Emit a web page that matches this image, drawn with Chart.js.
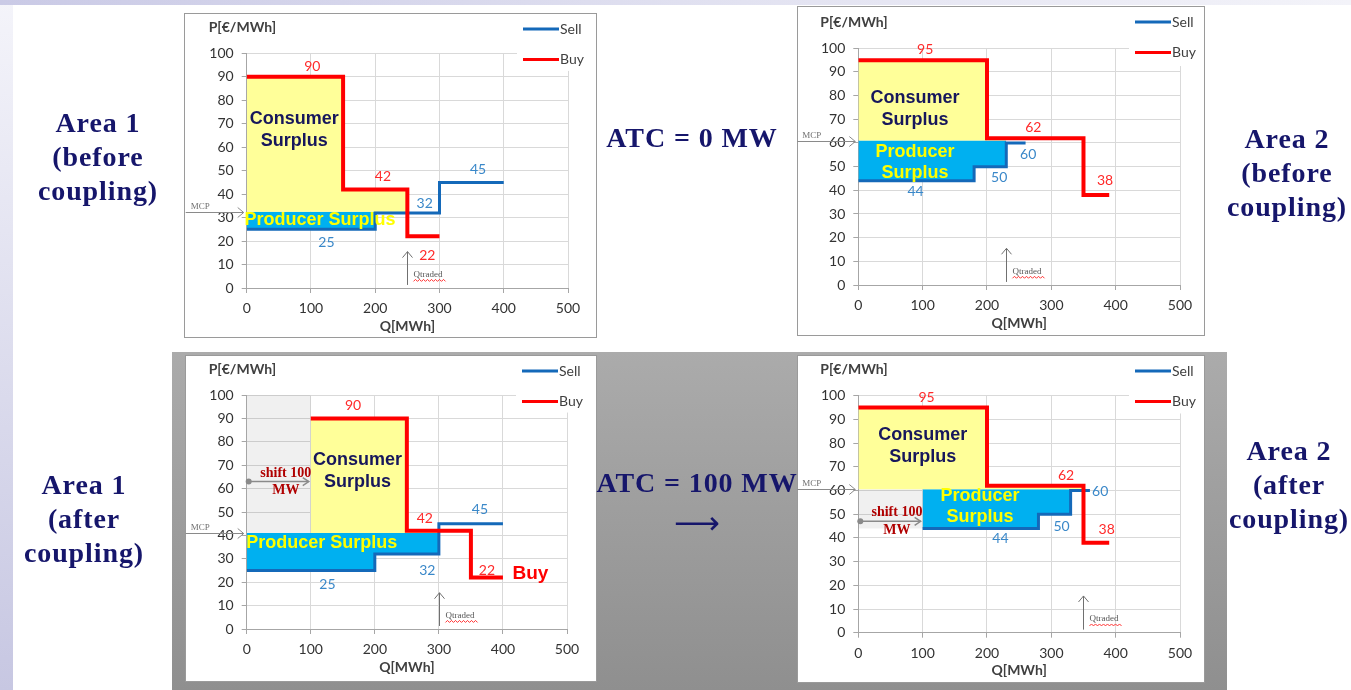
<!DOCTYPE html>
<html>
<head>
<meta charset="utf-8">
<script src="https://cdn.jsdelivr.net/npm/chart.js@4.4.0/dist/chart.umd.min.js"></script>
<style>
  body { margin: 0; width: 1351px; height: 690px; position: relative; overflow: hidden; background: #fff; }
  .strip-left { position: absolute; left: 0; top: 0; width: 13px; height: 690px; background: linear-gradient(#f4f4fa, #c7c7e2); }
  .strip-top { position: absolute; left: 0; top: 0; width: 1351px; height: 5px; background: linear-gradient(to right, #cacae6, #e2e2f1 55%, #f3f3f9); }
  .shade { position: absolute; left: 172px; top: 352px; width: 1055px; height: 338px; background: linear-gradient(#ababab, #8f8f8f); }
  .box { position: absolute; background: #fff; border: 1px solid #9a9a9a; box-sizing: border-box; }
  canvas { position: absolute; }
  .side { position: absolute; width: 220px; text-align: center; font: bold 28px/34px "Liberation Serif", serif; letter-spacing: 0.9px; color: #16166b; }
</style>
</head>
<body>
<div class="strip-left"></div>
<div class="strip-top"></div>
<div class="shade"></div>

<div class="box" style="left:184px;top:13px;width:413px;height:325px"></div>
<div class="box" style="left:797px;top:6px;width:408px;height:330px"></div>
<div class="box" style="left:185px;top:355px;width:412px;height:327px"></div>
<div class="box" style="left:797px;top:355px;width:408px;height:328px"></div>

<canvas id="c1"></canvas>
<canvas id="c2"></canvas>
<canvas id="c3"></canvas>
<canvas id="c4"></canvas>

<div class="side" style="left:-12px;top:106px">Area 1<br>(before<br>coupling)</div>
<div class="side" style="left:582px;top:121px">ATC = 0 MW</div>
<div class="side" style="left:1177px;top:122px">Area 2<br>(before<br>coupling)</div>
<div class="side" style="left:-26px;top:468px">Area 1<br>(after<br>coupling)</div>
<div class="side" style="left:587px;top:466px">ATC = 100 MW</div>
<div class="side" style="left:587px;top:503px;font:32px/40px 'DejaVu Sans';letter-spacing:0">⟶</div>
<div class="side" style="left:1179px;top:434px">Area 2<br>(after<br>coupling)</div>

<script>
// axis ticks
const qTicks = [0, 100, 200, 300, 400, 500];
const pTicks = [0, 10, 20, 30, 40, 50, 60, 70, 80, 90, 100];

// step curves: quantity breakpoints [MWh] and the price of each step [€/MWh]
// Area 1, before coupling
const a1BuyQ = [0, 150, 250, 300];
const a1BuyP = [90, 42, 22];
const a1SellQ = [0, 200, 300, 400];
const a1SellP = [25, 32, 45];
const a1Mcp = 32.5;
const a1Traded = 250;

// Area 2, before coupling
const a2BuyQ = [0, 200, 350, 390];
const a2BuyP = [95, 62, 38];
const a2SellQ = [0, 180, 230, 260];
const a2SellP = [44, 50, 60];
const a2Mcp = 61;
const a2Traded = 230;

// Area 1, after coupling (100 MW import shifts demand)
const a1cBuyQ = [100, 250, 350, 400];
const a1cBuyP = [90, 42, 22];
const a1cSellQ = [0, 200, 300, 400];
const a1cSellP = [25, 32, 45];
const a1cMcp = 41;
const a1cTraded = 300;

// Area 2, after coupling (100 MW export shifts supply)
const a2cBuyQ = [0, 200, 350, 390];
const a2cBuyP = [95, 62, 38];
const a2cSellQ = [100, 280, 330, 360];
const a2cSellP = [44, 50, 60];
const a2cMcp = 60.5;
const a2cTraded = 350;

const shiftMW = 100;

const RED = '#ff0000', BLUE = '#1469b9';
const RED_TXT = '#ff2a2a', BLUE_TXT = '#3a88c9';
const NAVY = '#17175c', YEL_TXT = '#ffff00', DARKRED = '#b00000';
const F_NUM = '14px Lato';
const F_AREA = 'bold 18px "Liberation Sans"';
const F_SHIFT = 'bold 14px "Liberation Serif"';

function steps(q, p) {
  const pts = p.map((v, i) => ({x: q[i], y: v}));
  pts.push({x: q[q.length - 1], y: p[p.length - 1]});
  return pts;
}

function clipSteps(q, p, from, to) {
  const pts = [];
  for (let i = 0; i < p.length; i++) {
    const a = Math.max(q[i], from), b = Math.min(q[i + 1], to);
    if (b > a) pts.push({x: a, y: p[i]});
  }
  pts.push({x: Math.min(to, q[q.length - 1]), y: pts[pts.length - 1].y});
  return pts;
}

function line(ctx, x1, y1, x2, y2) {
  ctx.beginPath(); ctx.moveTo(x1, y1); ctx.lineTo(x2, y2); ctx.stroke();
}

const notes = {
  id: 'notes',
  beforeDatasetsDraw(chart) {
    // white legend box over the top right grid
    const {ctx, chartArea: a, scales: {y}} = chart;
    const bx = a.right - 51;
    ctx.save();
    ctx.fillStyle = '#fff';
    ctx.fillRect(bx, 1, chart.width - 1 - bx, y.getPixelForValue(92.5) - 1);
    ctx.restore();
  },
  afterDraw(chart, args, o) {
    const {ctx, chartArea: a, scales: {x, y}} = chart;
    ctx.save();
    ctx.textBaseline = 'middle';

    // axis titles
    ctx.fillStyle = '#404040';
    ctx.font = 'bold 14px Lato';
    ctx.textAlign = 'left';
    ctx.fillText('P[€/MWh]', a.left - 38, a.top - 26);
    ctx.textAlign = 'center';
    ctx.fillText('Q[MWh]', (a.left + a.right) / 2, a.bottom + 38);

    // legend
    ['Sell', 'Buy'].forEach((name, i) => {
      const ds = chart.data.datasets.find(d => d.label === name);
      const ly = 16 + i * 30.5;
      ctx.strokeStyle = ds.borderColor;
      ctx.lineWidth = 3;
      line(ctx, a.right - 45, ly, a.right - 9, ly);
      ctx.fillStyle = '#404040';
      ctx.font = '14px Lato';
      ctx.textAlign = 'left';
      ctx.fillText(name, a.right - 8, ly);
    });

    // text labels at data positions
    o.texts.forEach(t => {
      ctx.font = t.font;
      ctx.fillStyle = t.color;
      ctx.textAlign = 'center';
      ctx.fillText(t.t, x.getPixelForValue(t.x), y.getPixelForValue(t.y));
    });

    ctx.strokeStyle = '#8a8a8a';
    ctx.fillStyle = '#8a8a8a';
    ctx.lineWidth = 1;

    // MCP arrow
    const my = Math.round(y.getPixelForValue(o.mcp)) + 0.5;
    const tip = a.left - 3;
    line(ctx, a.left - 61, my, tip, my);
    ctx.beginPath(); ctx.moveTo(tip - 6, my - 5); ctx.lineTo(tip, my); ctx.lineTo(tip - 6, my + 5); ctx.stroke();
    ctx.font = '9px "Liberation Serif"';
    ctx.fillStyle = '#707070';
    ctx.textAlign = 'left';
    ctx.fillText('MCP', a.left - 56, my - 6);

    // Qtraded arrow
    const qx = Math.round(x.getPixelForValue(o.traded)) + 0.5;
    const y0 = y.getPixelForValue(1.3), y1 = y.getPixelForValue(15.5);
    ctx.strokeStyle = '#707070';
    line(ctx, qx, y0, qx, y1);
    ctx.beginPath(); ctx.moveTo(qx - 5, y1 + 6); ctx.lineTo(qx, y1); ctx.lineTo(qx + 5, y1 + 6); ctx.stroke();
    const ty = y.getPixelForValue(5.8);
    ctx.fillStyle = '#555';
    ctx.fillText('Qtraded', qx + 6, ty);
    const w = ctx.measureText('Qtraded').width + 4;
    ctx.strokeStyle = '#ff3030';
    ctx.beginPath();
    for (let k = 0; k <= w; k += 2) {
      const px = qx + 6 + k, py = ty + 6 + ((k / 2) % 2 ? -1 : 1);
      if (k === 0) ctx.moveTo(px, py); else ctx.lineTo(px, py);
    }
    ctx.stroke();

    // shift arrow
    if (o.shift) {
      const sy = y.getPixelForValue(o.shift.at);
      const sx0 = x.getPixelForValue(0) + 2, sx1 = x.getPixelForValue(o.shift.amount) - 2;
      ctx.strokeStyle = '#8a8a8a';
      ctx.fillStyle = '#8a8a8a';
      ctx.lineWidth = 1.5;
      line(ctx, sx0, sy, sx1, sy);
      ctx.beginPath(); ctx.moveTo(sx1 - 6, sy - 4); ctx.lineTo(sx1, sy); ctx.lineTo(sx1 - 6, sy + 4); ctx.stroke();
      ctx.beginPath(); ctx.arc(sx0, sy, 3, 0, Math.PI * 2); ctx.fill();
    }
    ctx.restore();
  }
};

function makeChart(id, box, area, series, o) {
  const cv = document.getElementById(id);
  const left = box.l - 16, width = box.w + 16;
  cv.width = width; cv.height = box.h;
  cv.style.left = left + 'px'; cv.style.top = box.t + 'px';

  const datasets = [
    {label: 'Buy', data: steps(series.buyQ, series.buyP), borderColor: RED, borderWidth: 4, order: 0},
    {label: 'Sell', data: steps(series.sellQ, series.sellP), borderColor: BLUE, borderWidth: 3, order: 1},
    {label: 'Consumer surplus', data: clipSteps(series.buyQ, series.buyP, series.buyQ[0], o.traded),
      backgroundColor: '#ffff99', borderColor: 'transparent', borderWidth: 0, fill: {value: o.mcp}, order: 2},
    {label: 'Producer surplus', data: clipSteps(series.sellQ, series.sellP, series.sellQ[0], o.traded),
      backgroundColor: '#00b0f0', borderColor: 'transparent', borderWidth: 0, fill: {value: o.mcp}, order: 3}
  ];
  if (series.shade) {
    datasets.push({label: 'Shift', data: [{x: 0, y: series.shade[1]}, {x: shiftMW, y: series.shade[1]}],
      backgroundColor: 'rgba(0,0,0,0.06)', borderColor: 'transparent', borderWidth: 0,
      fill: {value: series.shade[0]}, order: 4});
  }
  datasets.forEach(d => { d.stepped = 'before'; d.pointRadius = 0; d.borderCapStyle = 'butt'; if (!d.fill) d.fill = false; });

  const tickFont = {family: 'Lato', size: 14};
  return new Chart(cv, {
    type: 'line',
    data: {datasets},
    options: {
      responsive: false,
      animation: false,
      events: [],
      layout: {padding: {left: area.l - left - 40, right: left + width - area.r, top: area.t - box.t, bottom: box.t + box.h - area.b - 50}},
      plugins: {legend: {display: false}, tooltip: {enabled: false}, notes: o},
      scales: {
        x: {
          type: 'linear', min: 0, max: 500,
          afterBuildTicks: s => { s.ticks = qTicks.map(v => ({value: v})); },
          afterFit: s => { s.height = 50; },
          grid: {color: '#d9d9d9', tickLength: 5, tickColor: '#a6a6a6'},
          border: {color: '#a6a6a6'},
          ticks: {font: tickFont, color: '#333', padding: 7, maxRotation: 0}
        },
        y: {
          type: 'linear', min: 0, max: 100,
          afterBuildTicks: s => { s.ticks = pTicks.map(v => ({value: v})); },
          afterFit: s => { s.width = 40; },
          grid: {color: '#d9d9d9', tickLength: 5, tickColor: '#a6a6a6'},
          border: {color: '#a6a6a6'},
          ticks: {font: tickFont, color: '#333', padding: 8}
        }
      }
    },
    plugins: [notes]
  });
}

const num = (v, x, y, c) => ({t: String(v), x, y, color: c, font: F_NUM});
const txt = (t, x, y, c, f) => ({t, x, y, color: c, font: f});

makeChart('c1', {l: 184, t: 13, w: 413, h: 325}, {l: 246.7, r: 568, t: 53.3, b: 288},
  {buyQ: a1BuyQ, buyP: a1BuyP, sellQ: a1SellQ, sellP: a1SellP},
  {mcp: a1Mcp, traded: a1Traded, texts: [
    num(a1BuyP[0], 102, 94.3, RED_TXT), num(a1BuyP[1], 212, 47.4, RED_TXT), num(a1BuyP[2], 281, 13.8, RED_TXT),
    num(a1SellP[0], 124, 19.3, BLUE_TXT), num(a1SellP[1], 277, 36, BLUE_TXT), num(a1SellP[2], 360, 50.6, BLUE_TXT),
    txt('Consumer', 74, 71.8, NAVY, F_AREA), txt('Surplus', 74, 62.6, NAVY, F_AREA),
    txt('Producer Surplus', 114, 29, YEL_TXT, F_AREA)
  ]});

makeChart('c2', {l: 797, t: 6, w: 408, h: 330}, {l: 858.3, r: 1180, t: 48.3, b: 285},
  {buyQ: a2BuyQ, buyP: a2BuyP, sellQ: a2SellQ, sellP: a2SellP},
  {mcp: a2Mcp, traded: a2Traded, texts: [
    num(a2BuyP[0], 104, 99.6, RED_TXT), num(a2BuyP[1], 272, 66.4, RED_TXT), num(a2BuyP[2], 383.5, 44, RED_TXT),
    num(a2SellP[0], 89, 39.5, BLUE_TXT), num(a2SellP[1], 219, 45.5, BLUE_TXT), num(a2SellP[2], 264, 55.3, BLUE_TXT),
    txt('Consumer', 88, 78.8, NAVY, F_AREA), txt('Surplus', 88, 69.7, NAVY, F_AREA),
    txt('Producer', 88, 56.3, YEL_TXT, F_AREA), txt('Surplus', 88, 47.2, YEL_TXT, F_AREA)
  ]});

makeChart('c3', {l: 185, t: 355, w: 412, h: 327}, {l: 246.7, r: 567, t: 395, b: 629},
  {buyQ: a1cBuyQ, buyP: a1cBuyP, sellQ: a1cSellQ, sellP: a1cSellP, shade: [a1cMcp, 100]},
  {mcp: a1cMcp, traded: a1cTraded, shift: {amount: shiftMW, at: 63}, texts: [
    num(a1cBuyP[0], 166, 95.7, RED_TXT), num(a1cBuyP[1], 278, 47.3, RED_TXT), num(a1cBuyP[2], 375, 25.2, RED_TXT),
    num(a1cSellP[0], 126, 19.1, BLUE_TXT), num(a1cSellP[1], 282, 24.8, BLUE_TXT), num(a1cSellP[2], 364, 50.9, BLUE_TXT),
    txt('Consumer', 173, 72.2, NAVY, F_AREA), txt('Surplus', 173, 63, NAVY, F_AREA),
    txt('Producer Surplus', 117, 36.6, YEL_TXT, F_AREA),
    txt('shift 100', 61, 66.5, DARKRED, F_SHIFT), txt('MW', 61, 59.4, DARKRED, F_SHIFT),
    txt('Buy', 443, 23.5, RED, 'bold 19px "Liberation Sans"')
  ]});

makeChart('c4', {l: 797, t: 355, w: 408, h: 328}, {l: 858.3, r: 1180, t: 395.7, b: 632.7},
  {buyQ: a2cBuyQ, buyP: a2cBuyP, sellQ: a2cSellQ, sellP: a2cSellP, shade: [a2cSellP[0], a2cMcp]},
  {mcp: a2cMcp, traded: a2cTraded, shift: {amount: shiftMW, at: 47}, texts: [
    num(a2cBuyP[0], 106, 99.2, RED_TXT), num(a2cBuyP[1], 323, 66.2, RED_TXT), num(a2cBuyP[2], 386, 43.7, RED_TXT),
    num(a2cSellP[0], 221, 39.8, BLUE_TXT), num(a2cSellP[1], 316, 44.7, BLUE_TXT), num(a2cSellP[2], 376, 59.5, BLUE_TXT),
    txt('Consumer', 100, 83.4, NAVY, F_AREA), txt('Surplus', 100, 74.3, NAVY, F_AREA),
    txt('Producer', 189, 57.8, YEL_TXT, F_AREA), txt('Surplus', 189, 48.7, YEL_TXT, F_AREA),
    txt('shift 100', 60, 50.6, DARKRED, F_SHIFT), txt('MW', 60, 43.3, DARKRED, F_SHIFT)
  ]});
</script>
</body>
</html>
